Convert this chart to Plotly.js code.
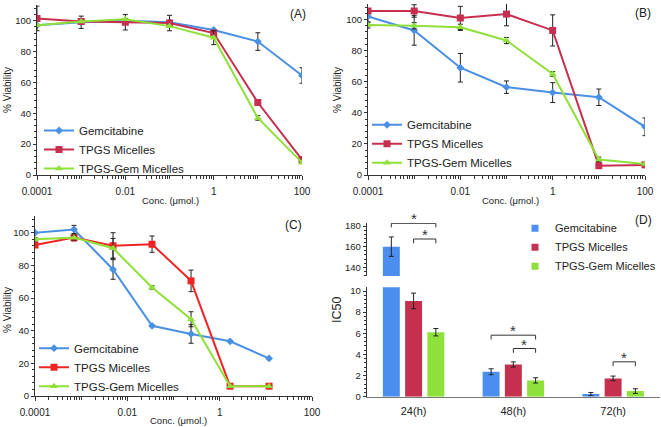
<!DOCTYPE html>
<html><head><meta charset="utf-8">
<script src="https://cdn.plot.ly/plotly-3.0.1.min.js"></script>
<style>html,body{margin:0;padding:0;background:#fff}#chart{width:661px;height:427px}</style>
</head><body><div id="chart"></div>
<script>
// ---------- DATA ----------
const seriesNames = ['Gemcitabine', 'TPGS Micelles', 'TPGS-Gem Micelles'];

// Panel A
const concA = [0.0001, 0.001, 0.01, 0.1, 1, 10, 100];
const gemA = [97, 99, 100, 99, 94, 86.5, 64.5];
const gemAErr = [null, 4, null, null, null, 5.7, 5];
const tpgsA = [101.5, 99.5, 99, 98.5, 92, 47, 10];
const tpgsAErr = [8, null, 5, 5, null, null, null];
const tgA = [97, 99.5, 101, 96.5, 89, 37, 8];
const tgAErr = [null, null, null, null, 4.5, 1.5, null];

// Panel B
const concB = [0.0001, 0.001, 0.01, 0.1, 1, 10, 100];
const gemB = [102, 93, 69, 56.5, 53, 50, 31];
const gemBErr = [4, 9.5, 9.2, 4, 6.4, 5.3, 5.7];
const tpgsB = [105.5, 105.5, 101, 103.5, 93, 6, 6.5];
const tpgsBErr = [null, 4, 7.5, 7.5, 10, null, null];
const tgB = [96.5, 96, 95, 86.5, 65, 10, 7];
const tgBErr = [2, 2, 2, 2, 1.5, 1.5, null];

// Panel C
const concC = [0.0001, 0.0007, 0.0049, 0.0343, 0.24, 1.68, 11.76];
const gemC = [100, 102, 77.5, 43, 38, 33.5, 23];
const gemCErr = [null, 2.5, 6, null, 5.7, null, null];
const tpgsC = [92.5, 97, 92, 93, 70.5, 6, 6];
const tpgsCErr = [null, 2, 8, 5, 6.6, null, null];
const tgC = [96, 97, 90.5, 66.5, 47, 6, 6];
const tgCErr = [1, 1.5, 6, 1, 4.6, null, null];

// Panel D (IC50)
const timeCats = ['24(h)', '48(h)', '72(h)'];
const gemD = [160, 2.36, 0.25];
const gemDErr = [9.4, 0.28, 0.15];
const tpgsD = [9.06, 3.05, 1.73];
const tpgsDErr = [0.74, 0.24, 0.22];
const tgD = [6.1, 1.54, 0.53];
const tgDErr = [0.35, 0.25, 0.22];

const xTickVals = [0.0001, 0.01, 1, 100];
const xTickText = ['0.0001', '0.01', '1', '100'];

// ---------- STYLE ----------
const W = 661, H = 427;
const px = v => v / W;
const py = v => 1 - v / H;
const FONT = 'Liberation Sans, Arial, sans-serif';
const BLUE = '#4a90e2', CRIMSON = '#c62f4f', RED = '#f02424', GREEN = '#8fe03a';
const BAR_BLUE = '#4c8ef0', BAR_RED = '#c4304e', BAR_GREEN = '#8ee03a';

const minorLog = [];
for (let d = -4; d < 2; d++) for (let k = 1; k <= 9; k++) minorLog.push(k * Math.pow(10, d));

function errY(arr) {
  return {type: 'data', array: arr, visible: true, color: '#222', thickness: 1, width: 2.5};
}
function lineTrace(x, y, err, name, color, symbol, size, xa, ya, leg) {
  return {
    type: 'scatter', mode: 'lines+markers', x: x, y: y, name: name,
    xaxis: xa, yaxis: ya, legend: leg,
    line: {color: color, width: 2},
    marker: {color: color, symbol: symbol, size: size},
    error_y: errY(err)
  };
}

const traces = [
  lineTrace(concA, gemA, gemAErr, seriesNames[0], BLUE, 'diamond', 6, 'x', 'y', 'legend'),
  lineTrace(concA, tpgsA, tpgsAErr, seriesNames[1], CRIMSON, 'square', 7, 'x', 'y', 'legend'),
  lineTrace(concA, tgA, tgAErr, seriesNames[2], GREEN, 'triangle-up', 7, 'x', 'y', 'legend'),
  lineTrace(concB, gemB, gemBErr, seriesNames[0], BLUE, 'diamond', 6, 'x2', 'y2', 'legend2'),
  lineTrace(concB, tpgsB, tpgsBErr, seriesNames[1], CRIMSON, 'square', 7, 'x2', 'y2', 'legend2'),
  lineTrace(concB, tgB, tgBErr, seriesNames[2], GREEN, 'triangle-up', 7, 'x2', 'y2', 'legend2'),
  lineTrace(concC, gemC, gemCErr, seriesNames[0], BLUE, 'diamond', 6, 'x3', 'y3', 'legend3'),
  lineTrace(concC, tpgsC, tpgsCErr, seriesNames[1], RED, 'square', 7, 'x3', 'y3', 'legend3'),
  lineTrace(concC, tgC, tgCErr, seriesNames[2], GREEN, 'triangle-up', 7, 'x3', 'y3', 'legend3')
];

// Panel D bars: broken axis (lower y4: 0..10.35, upper y5: 131.6..182.9)
const LOWER_MAX = 10.35;
const SLOT = 0.223, BW = 0.17;
const barSets = [[gemD, gemDErr, BAR_BLUE], [tpgsD, tpgsDErr, BAR_RED], [tgD, tgDErr, BAR_GREEN]];
barSets.forEach((s, i) => {
  const vals = s[0], errs = s[1], col = s[2];
  const off = (i - 1) * SLOT - BW / 2;
  traces.push({
    type: 'bar', x: timeCats, y: vals, xaxis: 'x4', yaxis: 'y4',
    width: BW, offset: off, marker: {color: col}, showlegend: false, name: seriesNames[i],
    error_y: errY(errs.map((e, j) => vals[j] > LOWER_MAX ? null : e))
  });
  if (vals.some(v => v > LOWER_MAX)) {
    traces.push({
      type: 'bar', x: timeCats, y: vals.map(v => v > LOWER_MAX ? v : null), xaxis: 'x4', yaxis: 'y5',
      width: BW, offset: off, marker: {color: col}, showlegend: false, name: seriesNames[i],
      error_y: errY(errs.map((e, j) => vals[j] > LOWER_MAX ? e : null))
    });
  }
  traces.push({
    type: 'scatter', mode: 'markers', x: [null], y: [null], xaxis: 'x4', yaxis: 'y4',
    name: seriesNames[i], legend: 'legend4', marker: {symbol: 'square', size: 7, color: col}
  });
});

// ---------- AXES ----------
const axLine = {showline: true, linecolor: '#333', linewidth: 1, showgrid: false, zeroline: false,
  tickcolor: '#333', tickfont: {size: 10, color: '#222'}};
function logX(domain, anchor) {
  return Object.assign({}, axLine, {
    type: 'log', range: [-4, 2], domain: domain, anchor: anchor,
    tickmode: 'array', tickvals: xTickVals, ticktext: xTickText,
    ticks: 'outside', ticklen: 4, ticklabelstandoff: 3,
    minor: {tickmode: 'array', tickvals: minorLog, ticks: 'outside', ticklen: 3, tickcolor: '#333'}
  });
}
function viaY(domain, anchor) {
  return Object.assign({}, axLine, {
    range: [0, 110], domain: domain, anchor: anchor, tick0: 0, dtick: 20,
    ticks: 'outside', ticklen: 3, tickfont: {size: 9.5, color: '#222'},
    minor: {dtick: 4, ticks: 'outside', ticklen: 2, tickcolor: '#333'}
  });
}
const legBase = {xanchor: 'left', yanchor: 'top', bgcolor: 'rgba(0,0,0,0)', font: {size: 11.5}};

const layout = {
  width: W, height: H, margin: {l: 0, r: 0, t: 0, b: 0},
  paper_bgcolor: '#fff', plot_bgcolor: 'rgba(0,0,0,0)',
  font: {family: FONT, color: '#222'},
  showlegend: true,
  xaxis: logX([px(37), px(302)], 'y'),
  yaxis: viaY([py(175), py(5.3)], 'x'),
  xaxis2: logX([px(368), px(645)], 'y2'),
  yaxis2: viaY([py(175), py(4)], 'x2'),
  xaxis3: logX([px(35), px(312)], 'y3'),
  yaxis3: viaY([py(396), py(216.4)], 'x3'),
  xaxis4: Object.assign({}, axLine, {
    type: 'category', domain: [px(366.7), px(660)], anchor: 'y4', range: [-0.47, 2.47],
    linecolor: '#777', linewidth: 1.5, ticks: '', tickfont: {size: 11, color: '#222'}, ticklabelstandoff: 4
  }),
  yaxis4: Object.assign({}, axLine, {
    domain: [py(396.7), py(287.3)], anchor: 'x4', range: [0, LOWER_MAX], tick0: 0, dtick: 2,
    ticks: 'outside', ticklen: 3, tickfont: {size: 9.5, color: '#222'},
    minor: {dtick: 0.4, ticks: 'outside', ticklen: 2, tickcolor: '#333'}
  }),
  yaxis5: Object.assign({}, axLine, {
    domain: [py(276), py(223)], anchor: 'x4', range: [131.6, 182.9],
    tickmode: 'array', tickvals: [140, 160, 180],
    ticks: 'outside', ticklen: 3, tickfont: {size: 9.5, color: '#222'},
    minor: {dtick: 4, ticks: 'outside', ticklen: 2, tickcolor: '#333'}
  }),
  legend: Object.assign({}, legBase, {x: px(39), y: py(116)}),
  legend2: Object.assign({}, legBase, {x: px(367), y: py(110.3)}),
  legend3: Object.assign({}, legBase, {x: px(34), y: py(333.7)}),
  legend4: Object.assign({}, legBase, {x: 1, xanchor: 'right', y: py(213.7), font: {size: 11}}),
  shapes: [],
  annotations: []
};

// significance brackets (decorations)
const brackets = [
  {cat: 0, a: 0, b: 2, ya: 'y5', top: 182.6, bot: 178.7},
  {cat: 0, a: 1, b: 2, ya: 'y5', top: 167.4, bot: 163.2},
  {cat: 1, a: 0, b: 2, ya: 'y4', top: 5.82, bot: 5.41},
  {cat: 1, a: 1, b: 2, ya: 'y4', top: 4.56, bot: 4.15},
  {cat: 2, a: 1, b: 2, ya: 'y4', top: 3.30, bot: 2.89}
];
brackets.forEach(br => {
  const xa = br.cat + (br.a - 1) * SLOT, xb = br.cat + (br.b - 1) * SLOT;
  const ln = {color: '#333', width: 1};
  layout.shapes.push({type: 'line', xref: 'x4', yref: br.ya, x0: xa, x1: xb, y0: br.top, y1: br.top, line: ln});
  layout.shapes.push({type: 'line', xref: 'x4', yref: br.ya, x0: xa, x1: xa, y0: br.top, y1: br.bot, line: ln});
  layout.shapes.push({type: 'line', xref: 'x4', yref: br.ya, x0: xb, x1: xb, y0: br.top, y1: br.bot, line: ln});
  layout.annotations.push({xref: 'x4', yref: br.ya, x: (xa + xb) / 2, y: br.top, text: '*',
    showarrow: false, yanchor: 'bottom', yshift: -6, font: {size: 15, color: '#333'}});
});

function txt(x, y, t, size, angle) {
  layout.annotations.push({xref: 'paper', yref: 'paper', x: px(x), y: py(y), text: t, showarrow: false,
    xanchor: 'center', yanchor: 'middle', textangle: angle || 0, font: {size: size, color: '#222'}});
}
txt(298, 14, '(A)', 12);
txt(643, 13, '(B)', 12);
txt(293, 225, '(C)', 12);
txt(643, 220, '(D)', 12);
txt(170, 200, 'Conc. (μmol.)', 9.5);
txt(510, 200, 'Conc. (μmol.)', 9.5);
txt(178, 420, 'Conc. (μmol.)', 9.5);
txt(7, 90, '% Viability', 10, -90);
txt(337, 90, '% Viability', 10, -90);
txt(7, 310, '% Viability', 10, -90);
txt(337, 310, 'IC50', 12.5, -90);

Plotly.newPlot('chart', traces, layout, {displayModeBar: false, staticPlot: true});
</script></body></html>
